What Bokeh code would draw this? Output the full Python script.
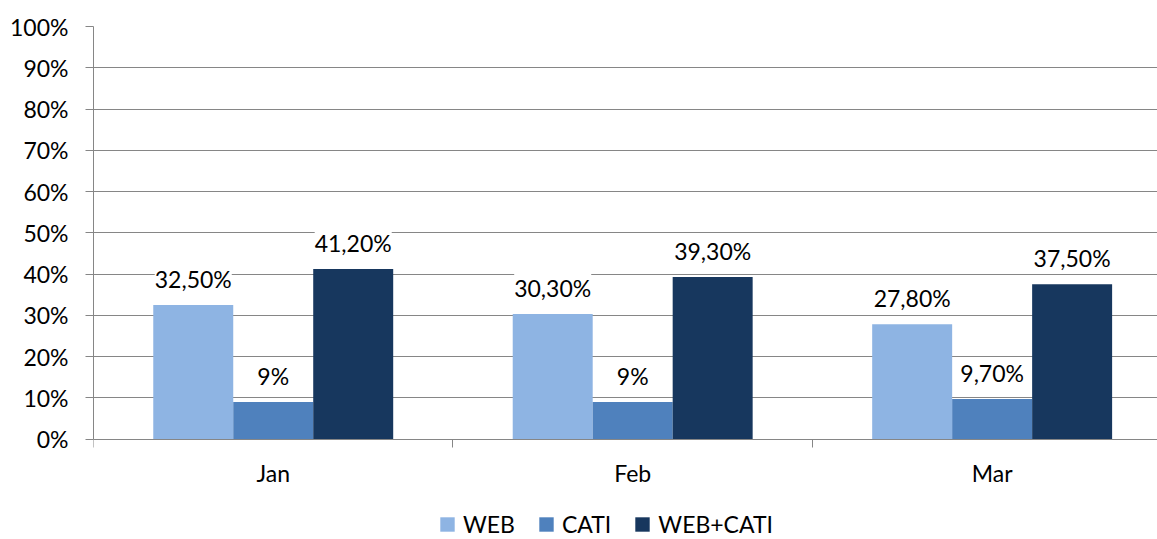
from bokeh.plotting import figure
from bokeh.models import (ColumnDataSource, FixedTicker, LabelSet, Range1d, LegendItem,
                          Legend, LinearAxis)
from bokeh.core.properties import value
from bokeh.embed import file_html
from bokeh.resources import INLINE

# ---- data ----
months = ["Jan", "Feb", "Mar"]
series_names = ["WEB", "CATI", "WEB+CATI"]
web = [32.5, 30.3, 27.8]
cati = [9.0, 9.0, 9.7]
web_cati = [41.2, 39.3, 37.5]
y_ticks = [0, 10, 20, 30, 40, 50, 60, 70, 80, 90, 100]
colors = ["#8EB4E3", "#4F81BD", "#17375E"]

FONT = "Lato"
FS = "23px"
GRID = "#868686"

def fmt(v):
    if float(v).is_integer():
        return "%d%%" % int(v)
    return ("%.2f%%" % v).replace(".", ",")

# plot frame runs to the bottom of the page; 0% sits 100 px above it (room for labels + legend)
H, TOP, ZERO_PX = 539, 26, 438.5
y_start = -(H - ZERO_PX) / (ZERO_PX - TOP) * 100

p = figure(width=1157, height=H, output_backend="svg", toolbar_location=None,
           x_range=Range1d(0, 2.96), y_range=Range1d(y_start, 100),
           x_axis_location=None, y_axis_location=None,
           min_border_left=93, min_border_right=0, min_border_top=TOP, min_border_bottom=0)
p.outline_line_color = None
p.background_fill_color = "white"
p.border_fill_color = "white"

bar_w = 0.2225
offsets = [-bar_w, 0.0, bar_w]
items = []
for name, vals, col, off in zip(series_names, [web, cati, web_cati], colors, offsets):
    xs = [i + 0.5 + off for i in range(len(months))]
    src = ColumnDataSource(dict(x=xs, top=vals, lab=[fmt(v) for v in vals]))
    r = p.vbar(x="x", top="top", bottom=0, width=bar_w, source=src, fill_color=col,
               line_color=None)
    items.append(LegendItem(label=name, renderers=[r]))
    ls = LabelSet(x="x", y="top", text="lab", source=src, text_align="center",
                  text_baseline="middle", y_offset=26, text_font=value(FONT),
                  text_font_size=value(FS), text_color="black",
                  background_fill_color="white")
    p.add_layout(ls)

# y axis
yax = LinearAxis(ticker=FixedTicker(ticks=y_ticks, minor_ticks=[]),
                 major_label_overrides={t: "%d%%" % t for t in y_ticks},
                 bounds=(0, 100))
yax.axis_line_color = GRID
yax.major_tick_line_color = GRID
yax.major_tick_out = 8
yax.major_tick_in = 0
yax.major_label_standoff = 17
yax.major_label_text_font = FONT
yax.major_label_text_font_size = FS
yax.major_label_text_color = "black"
yax.minor_tick_line_color = None
p.add_layout(yax, "left")

# x axis drawn at the 0% line
xax = LinearAxis(ticker=FixedTicker(ticks=[i + 0.5 for i in range(len(months))],
                                    minor_ticks=list(range(len(months) + 1))),
                 major_label_overrides={i + 0.5: m for i, m in enumerate(months)},
                 fixed_location=0)
xax.axis_line_color = GRID
xax.major_tick_line_color = None
xax.major_tick_out = 0
xax.major_tick_in = 0
xax.minor_tick_line_color = GRID
xax.minor_tick_out = 8
xax.minor_tick_in = 0
xax.major_label_standoff = 12
xax.major_label_text_font = FONT
xax.major_label_text_font_size = FS
xax.major_label_text_color = "black"
p.add_layout(xax, "below")

p.xgrid.grid_line_color = None
p.ygrid.ticker = yax.ticker
p.ygrid.grid_line_color = GRID
p.ygrid.grid_line_width = 1

lg = Legend(items=items, orientation="horizontal", location=(345, 1),
            padding=0, margin=0, spacing=22, glyph_width=18, glyph_height=18,
            label_standoff=7, label_text_font=FONT, label_text_font_size=FS,
            label_text_color="black", border_line_color=None, background_fill_alpha=0)
p.add_layout(lg, "center")

open("out.html", "w").write(file_html(p, INLINE))
